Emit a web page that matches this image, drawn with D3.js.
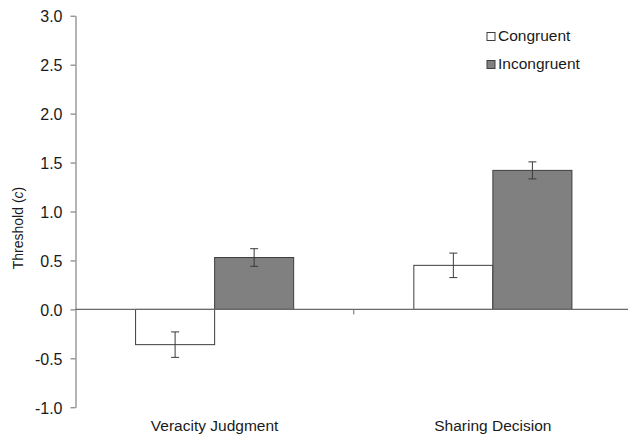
<!DOCTYPE html>
<html>
<head>
<meta charset="utf-8">
<script src="https://cdn.jsdelivr.net/npm/d3@7"></script>
<style>
  html, body { margin: 0; padding: 0; background: #fff; }
  svg text { font-family: "Liberation Sans", Arial, sans-serif; fill: #1a1a1a; }
</style>
</head>
<body>
<svg id="chart" width="628" height="437"></svg>
<script>
// Response threshold (c) by task and headline condition
const categories = ["Veracity Judgment", "Sharing Decision"];
const series = ["Congruent", "Incongruent"];
const congruentMeans = [-0.36, 0.45];
const incongruentMeans = [0.53, 1.42];
const congruentErrors = [0.13, 0.125];
const incongruentErrors = [0.09, 0.087];
const yTicks = [-1.0, -0.5, 0.0, 0.5, 1.0, 1.5, 2.0, 2.5, 3.0];

const fills = { "Congruent": "#ffffff", "Incongruent": "#808080" };

const rows = [];
categories.forEach((c, i) => {
  rows.push({ cat: c, ser: "Congruent", mean: congruentMeans[i], err: congruentErrors[i] });
  rows.push({ cat: c, ser: "Incongruent", mean: incongruentMeans[i], err: incongruentErrors[i] });
});

const svg = d3.select("#chart");
const plotLeft = 75.5, plotRight = 632, plotTop = 15.7, plotBottom = 407.3;

const y = d3.scaleLinear().domain([-1, 3]).range([plotBottom, plotTop]);
const x0 = d3.scaleBand().domain(categories).range([plotLeft, plotRight]).padding(0);
const x1 = d3.scaleBand().domain(series).range([0, x0.bandwidth()])
  .paddingInner(0).paddingOuter(0.76);

// y axis (plain hyphen for negatives)
const fmt = v => v.toFixed(1);
const yAxis = d3.axisLeft(y).tickValues(yTicks).tickSize(5).tickSizeOuter(0)
  .tickFormat(fmt);
const gy = svg.append("g").attr("transform", `translate(${plotLeft},0)`).call(yAxis);
gy.select(".domain").attr("stroke", "#6a6a6a");
gy.selectAll(".tick line").attr("stroke", "#6a6a6a");
gy.selectAll(".tick text").attr("x", -13).attr("dy", "0.36em")
  .style("font-size", "16px").style("font-family", "'Liberation Sans', Arial, sans-serif")
  .attr("fill", "#1a1a1a");

// y axis title
svg.append("text")
  .attr("transform", `translate(23,228) rotate(-90)`)
  .attr("text-anchor", "middle")
  .style("font-size", "14px")
  .html('Threshold (<tspan font-style="italic">c</tspan>)');

// bars
const bars = svg.append("g");
bars.selectAll("rect").data(rows).join("rect")
  .attr("x", d => x0(d.cat) + x1(d.ser))
  .attr("width", x1.bandwidth())
  .attr("y", d => y(Math.max(0, d.mean)))
  .attr("height", d => Math.abs(y(d.mean) - y(0)))
  .attr("fill", d => fills[d.ser])
  .attr("stroke", "#3e3e3e")
  .attr("stroke-width", 1);

// zero baseline with category separator tick
const y0 = y(0);
svg.append("line").attr("x1", plotLeft).attr("x2", plotRight)
  .attr("y1", y0).attr("y2", y0)
  .attr("stroke", "#6a6a6a").attr("stroke-width", 1.3);
svg.append("line")
  .attr("x1", x0(categories[1])).attr("x2", x0(categories[1]))
  .attr("y1", y0).attr("y2", y0 + 5)
  .attr("stroke", "#6a6a6a");

// error bars
const cap = 4;
const eb = svg.append("g").attr("stroke", "#3a3a3a").attr("stroke-width", 1);
rows.forEach(d => {
  const cx = x0(d.cat) + x1(d.ser) + x1.bandwidth() / 2;
  const yHi = y(d.mean + d.err), yLo = y(d.mean - d.err);
  eb.append("line").attr("x1", cx).attr("x2", cx).attr("y1", yHi).attr("y2", yLo);
  eb.append("line").attr("x1", cx - cap).attr("x2", cx + cap).attr("y1", yHi).attr("y2", yHi);
  eb.append("line").attr("x1", cx - cap).attr("x2", cx + cap).attr("y1", yLo).attr("y2", yLo);
});

// category labels
svg.append("g").selectAll("text").data(categories).join("text")
  .attr("x", d => x0(d) + x0.bandwidth() / 2)
  .attr("y", 431)
  .attr("text-anchor", "middle")
  .style("font-size", "15.5px")
  .text(d => d);

// legend
const lg = svg.append("g");
series.forEach((s, i) => {
  const ly = 41 + i * 28;
  lg.append("rect").attr("x", 487).attr("y", ly - 8.5).attr("width", 8).attr("height", 8)
    .attr("fill", fills[s]).attr("stroke", "#3e3e3e").attr("stroke-width", 1);
  lg.append("text").attr("x", 498).attr("y", ly).style("font-size", "15.5px").text(s);
});
</script>
</body>
</html>
